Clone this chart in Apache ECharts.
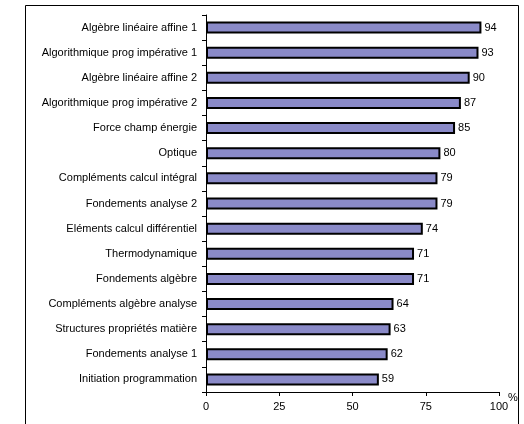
<!DOCTYPE html>
<html>
<head>
<meta charset="utf-8">
<script src="https://cdn.jsdelivr.net/npm/echarts@6/dist/echarts.min.js"></script>
<style>html,body{margin:0;padding:0;background:#fff;}#c{width:524px;height:424px;}</style>
</head>
<body>
<div id="c"></div>
<script>
const categories = [
  "Algèbre linéaire affine 1",
  "Algorithmique prog impérative 1",
  "Algèbre linéaire affine 2",
  "Algorithmique prog impérative 2",
  "Force champ énergie",
  "Optique",
  "Compléments calcul intégral",
  "Fondements analyse 2",
  "Eléments calcul différentiel",
  "Thermodynamique",
  "Fondements algèbre",
  "Compléments algèbre analyse",
  "Structures propriétés matière",
  "Fondements analyse 1",
  "Initiation programmation"
];
const values = [94, 93, 90, 87, 85, 80, 79, 79, 74, 71, 71, 64, 63, 62, 59];
const xTicks = [0, 25, 50, 75, 100];
const axisName = "%";

const font = "'Liberation Sans', Arial, sans-serif";
const chart = echarts.init(document.getElementById('c'), null, {renderer: 'canvas'});
chart.setOption({
  animation: false,
  backgroundColor: '#ffffff',
  graphic: [{
    type: 'rect',
    shape: {x: 25.5, y: 5.5, width: 493, height: 440},
    style: {fill: 'none', stroke: '#000', lineWidth: 1},
    silent: true,
    z: -1
  }],
  grid: {left: 206, right: 25, top: 15, bottom: 32, containLabel: false, outerBoundsMode: 'none'},
  xAxis: {
    type: 'value',
    min: xTicks[0],
    max: xTicks[xTicks.length - 1],
    interval: xTicks[1] - xTicks[0],
    name: axisName,
    nameLocation: 'end',
    nameGap: 9,
    nameMoveOverlap: false,
    nameTextStyle: {color: '#000', fontFamily: font, fontSize: 11, verticalAlign: 'top'},
    axisLine: {show: true, lineStyle: {color: '#000', width: 1}},
    axisTick: {show: true, inside: false, length: 4, lineStyle: {color: '#000'}},
    axisLabel: {color: '#000', fontFamily: font, fontSize: 11, margin: 9},
    splitLine: {show: false}
  },
  yAxis: {
    type: 'category',
    data: categories,
    inverse: true,
    axisLine: {show: true, lineStyle: {color: '#000', width: 1}},
    axisTick: {show: true, alignWithLabel: false, length: 4, lineStyle: {color: '#000'}},
    axisLabel: {color: '#000', fontFamily: font, fontSize: 11, margin: 9},
    splitLine: {show: false}
  },
  series: [{
    type: 'bar',
    data: values,
    barWidth: 12,
    itemStyle: {color: '#8a8ac8', borderColor: '#000', borderWidth: 2},
    label: {show: true, position: 'right', distance: 3, color: '#000', fontFamily: font, fontSize: 11}
  }]
});
</script>
</body>
</html>
